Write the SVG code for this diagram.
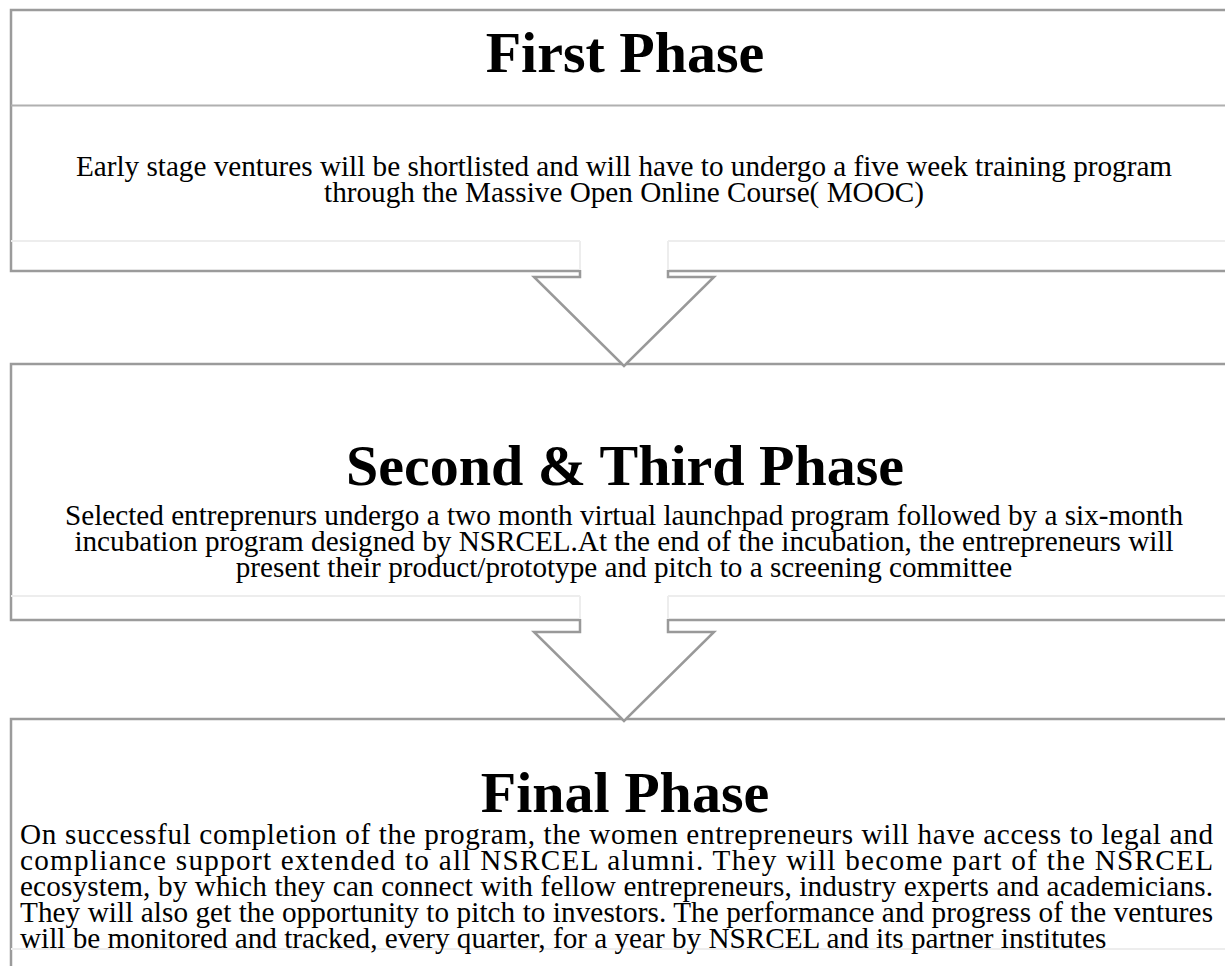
<svg xmlns="http://www.w3.org/2000/svg" width="1225" height="966" viewBox="0 0 1225 966">
<style>
.box{fill:#fff;stroke:#9b9b9b;stroke-width:2.5}
.light{fill:none;stroke:#ededed;stroke-width:2}
.cover{fill:#fff;stroke:none}
.arrow{fill:none;stroke:#999;stroke-width:2.5;stroke-linejoin:miter}
.title{font-family:"Liberation Serif","Times New Roman",serif;font-weight:bold;font-size:58px;fill:#000;text-anchor:middle}
.body{font-family:"Liberation Serif","Times New Roman",serif;font-size:29.2px;fill:#000}
.c{text-anchor:middle}
</style>
<rect width="1225" height="966" fill="#fff"/>
<g id="node1">
<path class="box" d="M1230,10 H11 V271 H1230"/>
<path class="light" d="M11,241 H1226"/>
<line x1="11" y1="105.5" x2="1226" y2="105.5" stroke="#b0b0b0" stroke-width="2"/>
<text class="title" x="625" y="72">First Phase</text>
<text class="body c" x="624" y="176">Early stage ventures will be shortlisted and will have to undergo a five week training program</text>
<text class="body c" x="624" y="202">through the Massive Open Online Course( MOOC)</text>
</g>
<g id="node2">
<path class="box" d="M1230,364 H11 V620 H1230"/>
<path class="light" d="M11,596 H1226"/>
<text class="title" x="625" y="485">Second &amp; Third Phase</text>
<text class="body c" x="624" y="525">Selected entreprenurs undergo a two month virtual launchpad program followed by a six-month</text>
<text class="body c" x="624" y="551">incubation program designed by NSRCEL.At the end of the incubation, the entrepreneurs will</text>
<text class="body c" x="624" y="577">present their product/prototype and pitch to a screening committee</text>
</g>
<g id="node3">
<path class="box" d="M1230,719 H11 V980"/>
<path class="light" d="M11,949 H1226"/>
<text class="title" x="625" y="812">Final Phase</text>
<text class="body" x="20" y="844" textLength="1193" lengthAdjust="spacing">On successful completion of the program, the women entrepreneurs will have access to legal and</text>
<text class="body" x="20" y="870" textLength="1193" lengthAdjust="spacing">compliance support extended to all NSRCEL alumni. They will become part of the NSRCEL</text>
<text class="body" x="20" y="896" textLength="1193" lengthAdjust="spacing">ecosystem, by which they can connect with fellow entrepreneurs, industry experts and academicians.</text>
<text class="body" x="20" y="922" textLength="1193" lengthAdjust="spacing">They will also get the opportunity to pitch to investors. The performance and progress of the ventures</text>
<text class="body" x="20" y="948">will be monitored and tracked, every quarter, for a year by NSRCEL and its partner institutes</text>
</g>
<g id="connectors">
<polygon class="cover" points="580,240 580,277 534,277 624,366 714,277 668,277 668,240"/>
<path class="light" d="M580,241 V271 M668,271 V241"/>
<path class="arrow" d="M580,270 V277 H534 L624,366 L714,277 H668 V270"/>
<polygon class="cover" points="580,595 580,632 534,632 624,721 714,632 668,632 668,595"/>
<path class="light" d="M580,596 V620 M668,620 V596"/>
<path class="arrow" d="M580,619 V632 H534 L624,721 L714,632 H668 V619"/>
</g>
</svg>
